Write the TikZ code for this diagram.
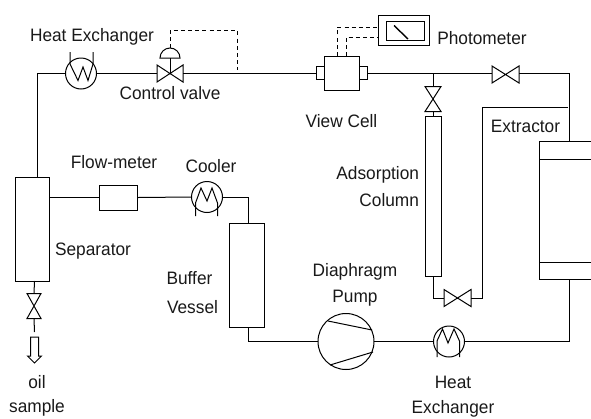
\documentclass[tikz,border=0pt]{standalone}
\usepackage{fontspec}
\setmainfont[FakeStretch=0.96]{Liberation Sans}
\usetikzlibrary{calc}
\tikzset{
  pipe/.style={draw=black,line width=1pt,line join=miter},
  heavy/.style={draw=black,line width=1.4pt},
  signal/.style={draw=black,line width=1pt,dash pattern=on 4pt off 3.2pt},
  boxnode/.style={draw=black,line width=1pt,rectangle,inner sep=0pt,outer sep=0pt},
  hx/.style={draw=black,line width=1pt,circle,inner sep=0pt,outer sep=0pt,minimum size=31pt},
  pumpnode/.style={draw=black,line width=1pt,circle,inner sep=0pt,outer sep=0pt,minimum size=56pt},
  hvalve/.style={rectangle,inner sep=0pt,outer sep=0pt,minimum width=#1,minimum height=17pt},
  vvalve/.style={rectangle,inner sep=0pt,outer sep=0pt,minimum width=#1,minimum height=25pt},
  lbl/.style={inner sep=0pt,outer sep=0pt,anchor=base,font=\fontsize{18pt}{20pt}\selectfont,text=black!90}
}
\newcommand{\bowh}[1]{\draw[pipe] (#1.north west) -- (#1.south east) -- (#1.north east) -- (#1.south west) -- cycle;}
\newcommand{\bowv}[1]{\draw[pipe] (#1.north west) -- (#1.south east) -- (#1.south west) -- (#1.north east) -- cycle;}
\begin{document}
\begin{tikzpicture}[x=1pt,y=-1pt]
\useasboundingbox (0,0) rectangle (591,418);
% equipment
\node[boxnode,minimum width=34pt,minimum height=104pt] (sep) at (32.5,229) {};
\node[boxnode,minimum width=38.5pt,minimum height=25pt] (flow) at (118.7,197.5) {};
\node[hx] (cool) at (207,197) {};
\node[boxnode,minimum width=34.5pt,minimum height=104pt] (buf) at (247,275) {};
\node[pumpnode] (pump) at (346,341.5) {};
\node[hx] (hxb) at (449,341.5) {};
\node[hx] (hxt) at (81,73.5) {};
\node[hvalve=26pt] (cv) at (170,73.5) {};
\node[boxnode,minimum width=35pt,minimum height=34pt] (cell) at (341.5,73) {};
\node[boxnode,minimum width=8pt,minimum height=12.5pt] (tabl) at (320,73) {};
\node[boxnode,minimum width=8pt,minimum height=12.5pt] (tabr) at (363,73) {};
\node[hvalve=27pt] (vtop) at (505.5,74.5) {};
\node[vvalve=16pt] (vcol) at (433,99) {};
\node[boxnode,minimum width=16pt,minimum height=160pt] (col) at (433,196) {};
\node[hvalve=27pt] (vbot) at (457.5,298) {};
\node[vvalve=14pt] (vsep) at (34,306) {};
\node[boxnode,minimum width=51pt,minimum height=30pt] (photo) at (403.5,30) {};
\node[boxnode,minimum width=38pt,minimum height=19pt] (dial) at (405,30.5) {};
\node[minimum width=52pt,minimum height=138pt,inner sep=0pt,outer sep=0pt] (ext) at (565,210) {};
\bowh{cv}\bowh{vtop}\bowh{vbot}\bowv{vcol}\bowv{vsep}
% extractor (runs off the right edge)
\draw[pipe] (ext.north east) -- (ext.north west) -- (ext.south west) -- (ext.south east);
\coordinate (eup) at (539,159); \coordinate (eupr) at (591,159);
\coordinate (elo) at (539,262); \coordinate (elor) at (591,262);
\draw[pipe] (eup) -- (eupr);
\draw[pipe] (elo) -- (elor);
\coordinate (extin) at (569,141);
\coordinate (extout) at (569,279);
% process pipes
\draw[pipe] (37,177) -- (37,73.5) -- (hxt.west);
\draw[pipe] (hxt.east) -- (cv.west);
\draw[pipe] (cv.east) -- (tabl.west |- cv.east);
\draw[pipe] (tabr.east |- 0,73.5) -- (vtop.west |- 0,73.5);
\draw[pipe] (vtop.east |- 0,73.5) -- (569,73.5) -- (extin);
\draw[pipe] (433,73.5) -- (vcol.north);
\draw[pipe] (vcol.south) -- (col.north);
\draw[pipe] (col.south) |- (vbot.west);
\draw[pipe] (vbot.east) -| (482,107) -- (568,107);
\draw[pipe] (extout) |- (hxb.east);
\draw[pipe] (hxb.west) -- (pump.east);
\coordinate (hv) at (407,341.5);
\draw[heavy] (pump.east) -- (hv);
\draw[pipe] (pump.west) -- (248.7,341.5) -- (248.7,327);
\draw[pipe] (sep.east |- flow.west) -- (flow.west);
\draw[pipe] (flow.east) -- (cool.west);
\draw[pipe] (cool.east) -- (248.7,197) -- (248.7,223);
\draw[pipe] (34.5,281) -- (vsep.north);
\coordinate (sampleend) at (34.5,332);
\draw[pipe] (vsep.south) -- (sampleend);
% open arrow
\coordinate (tip) at (34.5,363);
\draw[pipe] (30.5,337) -- (38.5,337) -- (38.5,356) -- (41.5,356) -- (tip) -- (27.5,356) -- (30.5,356) -- cycle;
% control valve actuator
\coordinate (act) at (170,58);
\draw[pipe] (cv.center) -- (act);
\draw[pipe] (160,58) arc[start angle=180,end angle=360,radius=10] -- cycle;
\coordinate (sigsrc) at (170,48);
\coordinate (sigtap) at (237,70);
\draw[signal] (sigsrc) -- (170,30) -- (237,30) -- (sigtap);
% photometer signals and needle
\draw[signal] (337,56) -- (337,27.5) -- (photo.west |- 0,27.5);
\draw[signal] (346,56) -- (346,37) -- (photo.west |- 0,37);
\draw[line width=1.4pt] (394,25.5) -- (408,39);
% heat-exchanger coils
\draw[pipe] (70,52) -- (70,64) -- (78,80.5) -- (83,67) -- (88,80.5) -- (93,64) -- (93,52);
\draw[pipe] (195.5,216) -- (195.5,203) -- (201,188) -- (207,201) -- (212,188) -- (217.5,203) -- (217.5,216);
\draw[pipe] (437,357) -- (437,341) -- (442.5,329) -- (448,343) -- (454,329) -- (459.5,341) -- (459.5,357);
% pump vanes
\draw[pipe] (328,321) -- (372,330);
\draw[pipe] (330,365) -- (373,352);
% labels
\node[lbl] (t1) at (92,41.7) {Heat Exchanger};
\node[lbl] (t2) at (170,99.5) {Control valve};
\node[lbl] (t3) at (341.5,127) {View Cell};
\node[lbl] (t4) at (482,44.3) {Photometer};
\node[lbl] (t5) at (525.5,132.7) {Extractor};
\node[lbl] (t6) at (114,168.3) {Flow-meter};
\node[lbl] (t7) at (211,172.3) {Cooler};
\node[lbl] (t8) at (93,255) {Separator};
\node[lbl] (t9) at (189.5,284.7) {Buffer};
\node[lbl] (t10) at (192.5,313) {Vessel};
\node[lbl] (t11) at (37,388.7) {oil};
\node[lbl] (t12) at (37,412) {sample};
\node[lbl,anchor=base east] (t13) at (419,179) {Adsorption};
\node[lbl,anchor=base east] (t14) at (419,206.7) {Column};
\node[lbl] (t15) at (355,276) {Diaphragm};
\node[lbl] (t16) at (355,302.3) {Pump};
\node[lbl] (t17) at (453,388.7) {Heat};
\node[lbl] (t18) at (453,413.5) {Exchanger};
\end{tikzpicture}
\end{document}
